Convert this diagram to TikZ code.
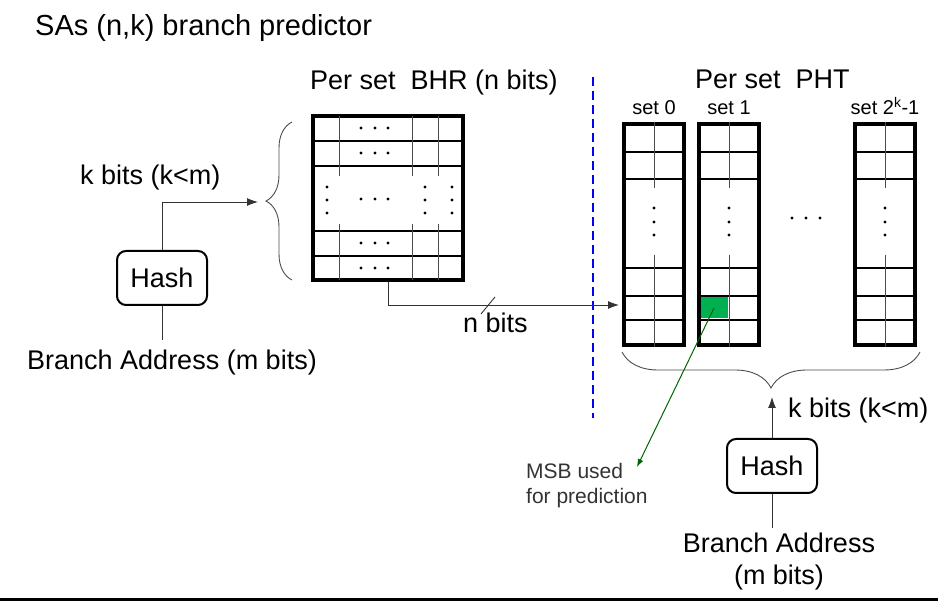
\documentclass[tikz,border=0pt]{standalone}
\usepackage{fontspec}
\setmainfont{Liberation Sans}
\usetikzlibrary{arrows.meta,decorations.pathreplacing}
\definecolor{msbgreen}{RGB}{0,176,80}
\definecolor{msbline}{RGB}{0,100,0}

\begin{document}
\begin{tikzpicture}[x=1pt, y=-1pt,
  >={Latex[length=11pt,width=8pt]},
  lbl/.style={font=\fontsize{27}{32}\selectfont},
  small/.style={font=\fontsize{20}{24}\selectfont},
  note/.style={font=\fontsize{21}{25}\selectfont, text=black!80},
  frame/.style={draw, line width=3.5pt, inner sep=0pt},
  phtcol/.style={draw, line width=4.5pt, inner sep=0pt, minimum width=60pt, minimum height=221pt},
  rowline/.style={line width=2.8pt},
  cell/.style={line width=0.8pt, black!70},
  wire/.style={line width=0.9pt, black!80},
  hashbox/.style={draw, line width=2pt, rounded corners=9pt, minimum width=90pt, minimum height=54pt, lbl},
  brc/.style={decorate, decoration={brace, amplitude=#1}, line width=0.9pt, black!70}]
  \useasboundingbox (0,0) rectangle (938,601);

  \node[anchor=base west, inner sep=0pt, font=\fontsize{29}{33}\selectfont] (title) at (35,36) {SAs (n,k) branch predictor};

  \node[lbl, anchor=base west, inner sep=0pt] (bhrhead) at (310,90) {Per set~ BHR (n bits)};
  \node[frame, minimum width=150pt, minimum height=164pt] (bhr) at (388,198) {};
  \foreach \y in {141,166,231,256}
    \draw[rowline] (bhr.west |- 0,\y) -- (bhr.east |- 0,\y);
  \foreach \x in {339,412,438} {
    \draw[cell] (\x,116) -- (\x,176);
    \draw[cell] (\x,224) -- (\x,280);
  }
  \foreach \y in {128,153,199,243,268}
    \foreach \x in {361,375,388}
      \fill (\x,\y) circle[radius=1.7pt];
  \foreach \x in {327,425,452}
    \foreach \y in {187,200,213}
      \fill (\x,\y) circle[radius=1.7pt];
  \draw[brc=26pt] (292,280) -- (292,122);
  \coordinate (bhrin) at (258,202);

  \node[lbl, anchor=base west, inner sep=0pt] (klbl1) at (80,185) {k bits (k<m)};
  \node[hashbox] (hash1) at (162,278) {Hash};
  \node[lbl, anchor=north, inner sep=0pt, inner ysep=10pt] (addr1) at (172,340) {Branch Address (m bits)};
  \draw[wire] (hash1.south) -- (hash1.south |- addr1.north);
  \draw[wire, ->] (hash1) |- (bhrin);

  \draw[blue, line width=2pt, dash pattern=on 9pt off 5pt] (593,77) -- (593,418);

  \node[lbl, anchor=base west, inner sep=0pt] (phthead) at (695,89) {Per set~ PHT};
  \foreach \c/\x/\t in {0/654/set 0, 1/729/set 1, 2/885/set 2\textsuperscript{k}-1} {
    \node[phtcol] (pht\c) at (\x,234.5) {};
    \node[small, anchor=base, inner sep=0pt] (set\c) at (\x,115) {\t};
    \foreach \y in {152,179,268,296,320}
      \draw[rowline] (pht\c.west |- 0,\y) -- (pht\c.east |- 0,\y);
    \draw[cell] (pht\c.north) -- (\x,188);
    \draw[cell] (\x,255) -- (pht\c.south);
    \foreach \y in {208,222,235}
      \fill (\x,\y) circle[radius=1.7pt];
  }
  \foreach \x in {792,806,820}
    \fill (\x,218) circle[radius=1.7pt];
  \node[fill=msbgreen, minimum width=27pt, minimum height=21pt, inner sep=0pt] (msb) at (714,308) {};

  \coordinate (pht0in) at (619,305);
  \draw[wire, ->] (bhr.south) |- (pht0in);
  \draw[wire] (481,314) -- (495,297);
  \node[lbl, anchor=base west, inner sep=0pt] (nlbl) at (463,333) {n bits};

  \coordinate (msbtip) at (637,467);
  \draw[line width=1pt, msbline, -{Latex[length=8pt,width=6pt]}] (msb.center) -- (msbtip);
  \node[note, anchor=north west, inner sep=0pt, align=left] (msbtxt) at (526,463.5) {MSB used\\for prediction};

  \draw[brc=36pt] (920,352) -- (622,352);
  \coordinate (phtin) at (772,397);
  \node[lbl, anchor=base west, inner sep=0pt] (klbl2) at (788,418) {k bits (k<m)};
  \node[hashbox] (hash2) at (772,466) {Hash};
  \node[lbl, anchor=north, align=center, inner sep=0pt, inner ysep=5pt] (addr2) at (779,528) {Branch Address\\(m bits)};
  \draw[wire, ->] (hash2) -- (phtin);
  \draw[wire] (hash2) -- (hash2.south |- addr2.north);

  \draw[line width=3pt] (0,599.5) -- (938,599.5);
\end{tikzpicture}
\end{document}
